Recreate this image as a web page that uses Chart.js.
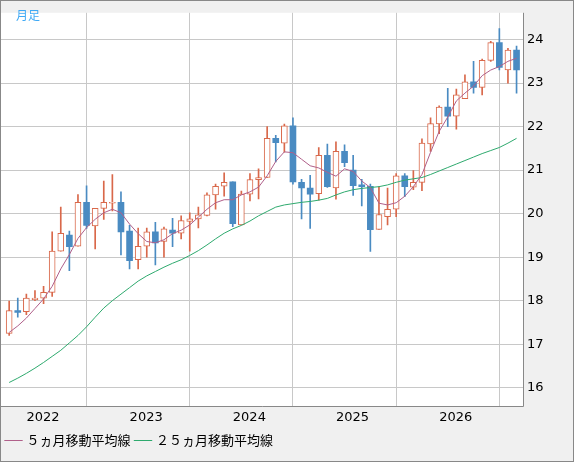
<!DOCTYPE html>
<html><head><meta charset="utf-8">
<script src="https://cdn.jsdelivr.net/npm/chart.js@4"></script>
<style>
html,body{margin:0;padding:0;background:#f0f0f0;}
#wrap{position:relative;width:572px;height:460px;border:1px solid #888;background:#f0f0f0;}
#lbl{position:absolute;left:15px;top:5px;color:#3fa9f5;font:12px "Noto Sans CJK JP",sans-serif;}
</style></head><body>
<div id="wrap"><canvas id="c" width="572" height="460"></canvas><div id="lbl">月足</div></div>
<script>
const startYear = 2021, startMonth = 10;
const yearTicks = [3, 15, 27, 39, 51];
const yearLabels = ['2022','2023','2024','2025','2026'];
const openV  = [17.25,17.77,17.75,18.02,18.06,18.19,19.14,19.51,19.25,20.26,19.72,20.12,20.24,20.26,19.6,18.94,19.25,19.58,19.36,19.62,19.55,19.82,19.88,19.96,20.43,20.63,20.73,19.74,20.45,20.78,20.83,21.73,21.62,22.02,20.72,20.59,20.46,21.34,20.59,21.43,21.0,20.66,20.63,19.64,19.93,20.1,20.87,20.61,20.72,21.6,22.06,22.45,22.24,22.64,23.03,22.9,23.52,23.93,23.3,23.76];
const highV  = [17.99,18.06,18.15,18.23,18.33,19.58,20.15,19.6,20.44,20.64,20.12,20.75,20.9,20.5,19.73,19.67,19.67,19.8,19.69,19.89,19.95,20.02,20.15,20.48,20.68,20.94,20.73,20.52,20.92,21.03,22.0,21.8,22.06,22.2,20.79,20.88,21.52,21.6,21.65,21.58,21.34,20.79,20.68,20.62,20.59,20.92,20.92,20.99,21.72,22.2,22.48,22.88,22.86,23.19,23.5,23.55,23.96,24.25,23.8,23.85];
const lowV   = [17.2,17.62,17.68,18.0,17.93,18.1,19.14,18.69,19.25,19.66,19.19,19.87,20.06,19.05,18.73,18.73,19.0,18.82,19.0,19.24,19.42,19.14,19.67,19.95,20.1,20.4,19.7,19.74,20.29,20.34,20.83,21.19,21.41,20.68,19.88,19.66,20.31,20.6,20.33,21.08,20.42,20.18,19.13,19.64,19.74,19.93,20.39,20.55,20.53,21.43,21.84,22.0,21.94,22.64,22.77,22.73,23.5,23.3,23.0,22.77];
const closeV = [17.77,17.73,18.06,18.06,18.19,19.14,19.55,19.24,20.26,19.73,20.12,20.26,20.26,19.58,18.92,19.25,19.58,19.33,19.65,19.55,19.84,19.88,19.97,20.43,20.63,20.72,19.77,20.45,20.78,20.83,21.73,21.63,22.02,20.73,20.59,20.45,21.34,20.62,21.43,21.17,20.64,20.62,19.63,19.98,20.1,20.87,20.62,20.72,21.62,22.07,22.45,22.24,22.73,23.03,22.9,23.52,23.93,23.36,23.76,23.3];
const ma5  = [17.27,17.42,17.6,17.82,18.04,18.33,18.73,19.06,19.43,19.68,19.87,20.02,20.1,20.02,19.76,19.54,19.36,19.33,19.4,19.54,19.62,19.74,19.92,20.1,20.25,20.32,20.32,20.43,20.5,20.61,20.87,21.2,21.42,21.4,21.25,21.1,21.05,20.95,20.86,21.03,20.97,20.75,20.6,20.24,20.2,20.25,20.4,20.62,20.9,21.41,21.89,22.22,22.59,22.77,22.93,23.17,23.3,23.38,23.5,23.57];
const ma25 = [16.12,16.22,16.33,16.45,16.58,16.72,16.86,17.03,17.2,17.4,17.62,17.83,18.0,18.15,18.3,18.45,18.57,18.67,18.77,18.86,18.94,19.04,19.15,19.28,19.42,19.55,19.65,19.73,19.83,19.95,20.05,20.15,20.2,20.23,20.26,20.28,20.31,20.35,20.43,20.5,20.55,20.58,20.6,20.62,20.66,20.72,20.77,20.8,20.83,20.9,20.98,21.06,21.14,21.22,21.3,21.38,21.45,21.52,21.62,21.73];
const yTicks = [16,17,18,19,20,21,22,23,24];

const UP='#d9684a', DOWN='#4a8bc2';
const isUp = closeV.map((c,i)=>c>=openV[i]);
const wick = highV.map((h,i)=>({x:i,y:[lowV[i],h]}));
const body = openV.map((o,i)=>{let a=Math.min(o,closeV[i]),b=Math.max(o,closeV[i]);if(b-a<0.02)b=a+0.02;return {x:i,y:[a,b]};});

const bg = {id:'bg',beforeDraw(ch){const {ctx,chartArea:a}=ch;ctx.save();ctx.fillStyle='#fff';ctx.fillRect(a.left,a.top,a.right-a.left,a.bottom-a.top);ctx.restore();},
 afterDraw(ch){const {ctx,chartArea:a}=ch;ctx.save();ctx.strokeStyle='#888';ctx.lineWidth=1;ctx.beginPath();ctx.moveTo(a.right+0.5,a.top);ctx.lineTo(a.right+0.5,a.bottom+0.5);ctx.lineTo(a.left,a.bottom+0.5);ctx.stroke();ctx.restore();}};

new Chart(document.getElementById('c'),{
 type:'bar',
 data:{datasets:[
  {label:'５ヵ月移動平均線',type:'line',data:ma5.map((v,i)=>({x:i,y:v})),borderColor:'#b0608a',borderWidth:1,pointRadius:0,tension:0,order:0},
  {label:'２５ヵ月移動平均線',type:'line',data:ma25.map((v,i)=>({x:i,y:v})),borderColor:'#2eaa6e',borderWidth:1,pointRadius:0,tension:0,order:0},
  {label:'',data:wick,backgroundColor:isUp.map(u=>u?UP:DOWN),barThickness:1,grouped:false,order:2},
  {label:'',data:body,backgroundColor:isUp.map(u=>u?'#fff':DOWN),borderColor:isUp.map(u=>u?UP:DOWN),borderWidth:isUp.map(u=>u?1:0),borderSkipped:false,barThickness:6,grouped:false,order:1}
 ]},
 options:{animation:false,responsive:false,
  layout:{padding:{left:0,top:-8,right:0,bottom:4}},
  plugins:{tooltip:{enabled:false},
   legend:{position:'bottom',align:'start',labels:{filter:i=>i.text!=='',usePointStyle:true,pointStyle:'line',boxWidth:20,color:'#000',padding:6,font:{size:13,family:'"Noto Sans CJK JP",sans-serif'}}}},
  scales:{
   x:{type:'linear',min:-0.95,max:59.75,offset:false,
      afterBuildTicks:s=>{s.ticks=yearTicks.map(v=>({value:v}));},
      afterFit:s=>{s.height=22;},
      ticks:{callback:(v)=>yearLabels[yearTicks.indexOf(v)]||'',labelOffset:8,color:'#000',font:{size:13,family:'DejaVu Sans'},maxRotation:0,autoSkip:false,padding:4},
      grid:{color:'#c8c8c8',drawTicks:false},border:{display:false}},
   y:{position:'right',min:15.58,max:24.615,
      afterBuildTicks:s=>{s.ticks=yTicks.map(v=>({value:v}));},
      afterFit:s=>{s.width=50;},
      ticks:{color:'#000',font:{size:13,family:'DejaVu Sans'},padding:4},
      grid:{color:'#c8c8c8',drawTicks:false},border:{display:false}}
  }},
 plugins:[bg]
});
</script></body></html>
